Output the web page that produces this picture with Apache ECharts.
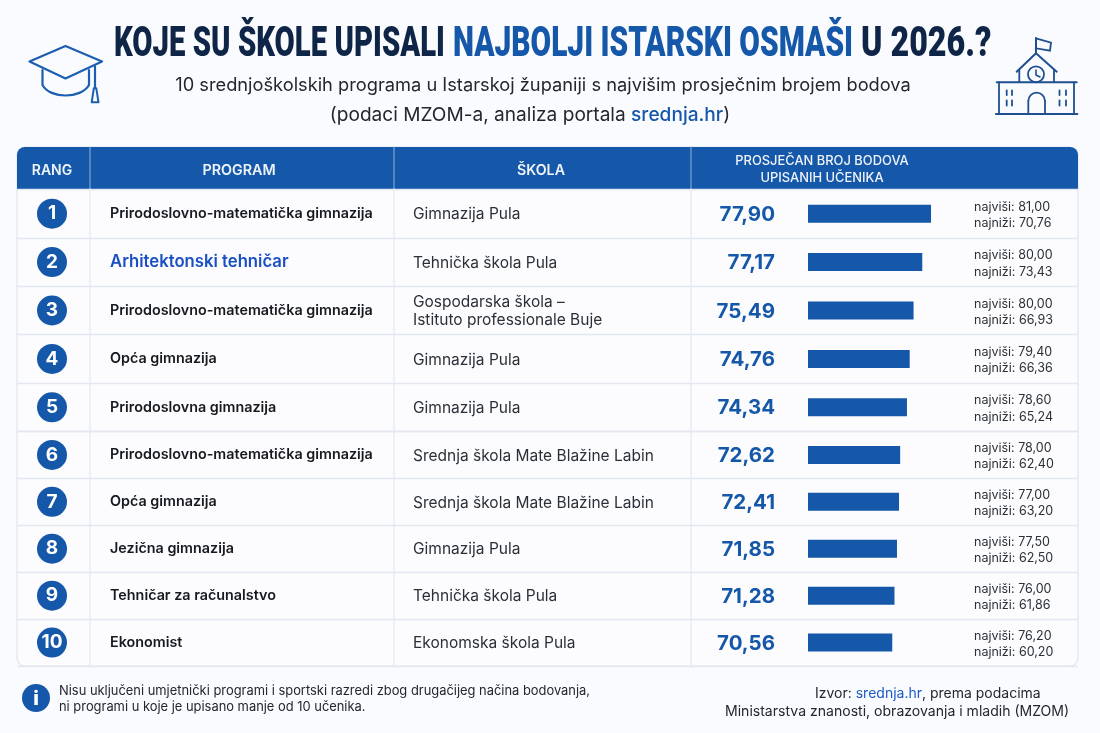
<!DOCTYPE html>
<html>
<head>
<meta charset="utf-8">
<style>html,body{margin:0;padding:0;background:#fafbfe}#c{width:1100px;height:733px}</style>
<script src="https://cdn.jsdelivr.net/npm/echarts@6/dist/echarts.min.js"></script>
</head>
<body>
<div id="c"></div>
<script>
const ranks = [1,2,3,4,5,6,7,8,9,10];
const programs = ['Prirodoslovno-matematička gimnazija','Arhitektonski tehničar','Prirodoslovno-matematička gimnazija','Opća gimnazija','Prirodoslovna gimnazija','Prirodoslovno-matematička gimnazija','Opća gimnazija','Jezična gimnazija','Tehničar za računalstvo','Ekonomist'];
const schools = ['Gimnazija Pula','Tehnička škola Pula','Gospodarska škola –\nIstituto professionale Buje','Gimnazija Pula','Gimnazija Pula','Srednja škola Mate Blažine Labin','Srednja škola Mate Blažine Labin','Gimnazija Pula','Tehnička škola Pula','Ekonomska škola Pula'];
const averages = ['77,90','77,17','75,49','74,76','74,34','72,62','72,41','71,85','71,28','70,56'];
// Bar lengths; in the reference bar 1 is drawn a little longer than its printed average.
const barValues = [79.1,77.17,75.25,74.4,73.8,72.3,72.05,71.6,71.05,70.56];
const highest = ['81,00','80,00','80,00','79,40','78,60','78,00','77,00','77,50','76,00','76,20'];
const lowest = ['70,76','73,43','66,93','66,36','65,24','62,40','63,20','62,50','61,86','60,20'];

const BODY = 'Inter, Roboto, sans-serif';
const BLUE = '#1557a8';
const bands = [{top:189.5,height:242,from:0,to:5},{top:431.5,height:234.5,from:5,to:10}];

const grids=[], xAxes=[], yAxes=[], series=[];
function addCol(band, left, width, xCfg, yLabel, seriesCfg, dy){
  const gi = grids.length;
  const idx = ranks.slice(band.from, band.to).map(String);
  grids.push({left:left, width:width, top:band.top+(dy||0), height:band.height});
  xAxes.push(Object.assign({gridIndex:gi,type:'value',show:false}, xCfg));
  yAxes.push({gridIndex:gi,type:'category',inverse:true,data:idx,
    position:yLabel && yLabel.right ? 'right':'left',
    axisLine:{show:false},axisTick:{show:false},splitLine:{show:false},
    axisLabel:yLabel ? Object.assign({show:true,inside:true,interval:0,hideOverlap:false},yLabel.label) : {show:false}});
  if(seriesCfg) series.push(Object.assign({xAxisIndex:gi,yAxisIndex:gi,silent:true},seriesCfg(band)));
}
bands.forEach(band=>{
  // row separators across the full table
  const gi = grids.length;
  grids.push({left:17,width:1061,top:band.top,height:band.height});
  xAxes.push({gridIndex:gi,type:'value',show:false});
  yAxes.push({gridIndex:gi,type:'category',inverse:true,data:ranks.slice(band.from,band.to).map(String),
    axisLine:{show:false},axisTick:{show:false},axisLabel:{show:false},
    splitLine:{show:true,interval:0,lineStyle:{color:'#e2e7f0',width:1.4}}});
  // rank circles
  addCol(band,17,70,{min:-1,max:1},null,b=>({type:'scatter',symbolSize:30,
    itemStyle:{color:BLUE,opacity:1},
    data:ranks.slice(b.from,b.to).map((r,i)=>({value:[0,i],name:String(r)})),
    label:{show:true,position:'inside',formatter:p=>p.name,color:'#fff',fontFamily:BODY,fontWeight:700,fontSize:19}}));
  // programme names
  addCol(band,90,304,{min:0,max:1},{label:{margin:20,align:'left',
    formatter:(v,i)=>(v==='2'?'{hi|':'{n|')+programs[band.from+i]+'}',
    rich:{n:{fontFamily:BODY,fontWeight:600,fontSize:14.35,color:'#16191f'},
          hi:{fontFamily:BODY,fontWeight:600,fontSize:16.7,color:'#1a4fc4'}}}});
  // schools
  addCol(band,394,297,{min:0,max:1},{label:{margin:19,align:'left',fontFamily:BODY,fontWeight:400,fontSize:15.5,lineHeight:18,color:'#2b3038',
    formatter:(v,i)=>schools[band.from+i]}},null,1);
  // averages
  addCol(band,691,84,{min:0,max:1},{right:true,label:{margin:0,align:'right',fontFamily:BODY,fontWeight:700,fontSize:20.5,color:BLUE,
    formatter:(v,i)=>averages[band.from+i]}},null,1);
  // bars
  addCol(band,808,136.2,{min:52,max:82},null,b=>({type:'bar',barWidth:18,
    itemStyle:{color:BLUE},
    data:barValues.slice(b.from,b.to)}));
  // highest / lowest
  addCol(band,974,100,{min:0,max:1},{label:{margin:0,align:'left',fontFamily:BODY,fontSize:12.5,lineHeight:16.5,color:'#2b3038',
    formatter:(v,i)=>'najviši: '+highest[band.from+i]+'\nnajniži: '+lowest[band.from+i]}},null,1.5);
});

const line=(pts,color,w)=>({type:'polyline',silent:true,shape:{points:pts},style:{stroke:color,lineWidth:w,fill:null,lineJoin:'round',lineCap:'round'}});
const txt=(x,y,text,size,color,weight,align,extra)=>({type:'text',silent:true,x,y:y+1.5,z:5,style:Object.assign({text,fontFamily:BODY,fontSize:size,fontWeight:weight||400,fill:color,textAlign:align||'left',textVerticalAlign:'middle'},extra||{})});

const CAP='#1c5fb0', SC='#1f4f8e';
const TITLE='Roboto, sans-serif';
const titlePart=(x,text,color,sx)=>({type:'text',silent:true,x,y:45,originX:0,originY:0,scaleX:sx,scaleY:1,z:5,style:{text,fontFamily:TITLE,fontWeight:900,fontSize:43,fill:color,textAlign:'left',textVerticalAlign:'middle'}});
const elements=[
  {type:'rect',silent:true,shape:{x:17,y:147,width:1061,height:519,r:8},style:{fill:'#fcfcfe',stroke:'#dfe4ee',lineWidth:1.2}},
  {type:'rect',silent:true,shape:{x:17,y:147,width:1061,height:42,r:[8,8,0,0]},style:{fill:BLUE}},
  line([[90,147],[90,189]],'#7ea2d2',1.2),line([[394,147],[394,189]],'#7ea2d2',1.2),line([[691,147],[691,189]],'#7ea2d2',1.2),
  line([[90,189],[90,666]],'#e4e8f1',1.2),line([[394,189],[394,666]],'#e4e8f1',1.2),line([[691,189],[691,666]],'#e4e8f1',1.2),
  // title (condensed by horizontal scaling)
  titlePart(114,'KOJE SU ŠKOLE UPISALI','#0f2547',0.682),
  titlePart(453,'NAJBOLJI ISTARSKI OSMAŠI','#1557a8',0.694),
  titlePart(861,'U 2026.?','#0f2547',0.75),
  txt(543,84,'10 srednjoškolskih programa u Istarskoj županiji s najvišim prosječnim brojem bodova',18.25,'#23272e',400,'center'),
  {type:'text',silent:true,x:530,y:115.5,z:5,style:{text:'{a|(podaci MZOM-a, analiza portala }{b|srednja.hr}{a|)}',textAlign:'center',textVerticalAlign:'middle',
    rich:{a:{fontFamily:BODY,fontSize:19.1,fill:'#23272e',color:'#23272e'},b:{fontFamily:BODY,fontSize:19.1,fontWeight:500,fill:'#1557a8',color:'#1557a8'}}}},
  // header
  txt(52,169,'RANG',14,'#eef3fa',600,'center'),
  txt(239,169,'PROGRAM',14.3,'#eef3fa',600,'center'),
  txt(541,169,'ŠKOLA',14.2,'#eef3fa',600,'center'),
  txt(822,159.5,'PROSJEČAN BROJ BODOVA',12.9,'#eef3fa',500,'center'),
  txt(822,176.5,'UPISANIH UČENIKA',12.9,'#eef3fa',500,'center'),
  // footnote
  {type:'circle',silent:true,shape:{cx:36,cy:698,r:14},style:{fill:BLUE}},
  txt(36,697,'i',20,'#fff',800,'center'),
  txt(59,689.5,'Nisu uključeni umjetnički programi i sportski razredi zbog drugačijeg načina bodovanja,',12.9,'#23272e'),
  txt(59,705.5,'ni programi u koje je upisano manje od 10 učenika.',12.9,'#23272e'),
  {type:'text',silent:true,x:815,y:693.5,z:5,style:{text:'{a|Izvor: }{b|srednja.hr}{a|, prema podacima}',textVerticalAlign:'middle',
    rich:{a:{fontFamily:BODY,fontSize:14,fill:'#23272e',color:'#23272e'},b:{fontFamily:BODY,fontSize:14,fill:'#1a5ac8',color:'#1a5ac8'}}}},
  txt(725,710.5,'Ministarstva znanosti, obrazovanja i mladih (MZOM)',14.05,'#23272e'),
  // cap icon
  {type:'polygon',silent:true,shape:{points:[[29.5,61.5],[65.5,46],[102,61.5],[65.5,78.5]]},style:{fill:'transparent',stroke:CAP,lineWidth:2.2,lineJoin:'round'}},
  line([[42.5,70],[42.5,85]],CAP,2.2),line([[89,70],[89,85]],CAP,2.2),
  {type:'bezierCurve',silent:true,shape:{x1:42.5,y1:85,cpx1:50,cpy1:99,cpx2:81,cpy2:99,x2:89,y2:85},style:{stroke:CAP,lineWidth:2.2,fill:null}},
  line([[95,66],[95,88]],CAP,2.2),
  {type:'polygon',silent:true,shape:{points:[[93.8,88.3],[96.3,88.3],[98.5,102.3],[91.7,102.3]]},style:{fill:'transparent',stroke:CAP,lineWidth:2,lineJoin:'round'}},
  // school icon
  line([[1036,38.3],[1036,53.3]],SC,2),
  {type:'polygon',silent:true,shape:{points:[[1036,38.3],[1051,42.7],[1050,50.7],[1036,48.3]]},style:{fill:'transparent',stroke:SC,lineWidth:1.8}},
  line([[1016.7,71.7],[1036,53.3],[1056.7,71.7]],SC,2),
  line([[1019.3,70],[1019.3,82]],SC,1.8),line([[1054,70],[1054,82]],SC,1.8),
  {type:'circle',silent:true,shape:{cx:1036,cy:74.3,r:8},style:{fill:'transparent',stroke:SC,lineWidth:1.8}},
  line([[1036,70],[1036,75],[1040,77]],SC,1.6),
  line([[996.7,82.3],[1076.7,82.3]],SC,2),
  line([[999,82.3],[999,114]],SC,1.8),line([[1074,82.3],[1074,114]],SC,1.8),
  line([[996,114],[1077.3,114]],SC,2.2),
  line([[1028.3,114],[1028.3,101]],SC,1.8),line([[1045,114],[1045,101]],SC,1.8),
  {type:'arc',silent:true,shape:{cx:1036.65,cy:101,r:8.35,startAngle:Math.PI,endAngle:2*Math.PI},style:{stroke:SC,lineWidth:1.8,fill:null}},
  ...[1006.7,1012,1059.5,1066].flatMap(x=>[line([[x,90.5],[x,95]],SC,1.8),line([[x,100.5],[x,105.5]],SC,1.8)])
];

const chart=echarts.init(document.getElementById('c'),null,{renderer:'canvas'});
chart.setOption({
  backgroundColor:'#fafbfe',animation:false,tooltip:{show:false},
  grid:grids,xAxis:xAxes,yAxis:yAxes,series:series,
  graphic:{elements:elements}
});
</script>
</body>
</html>
